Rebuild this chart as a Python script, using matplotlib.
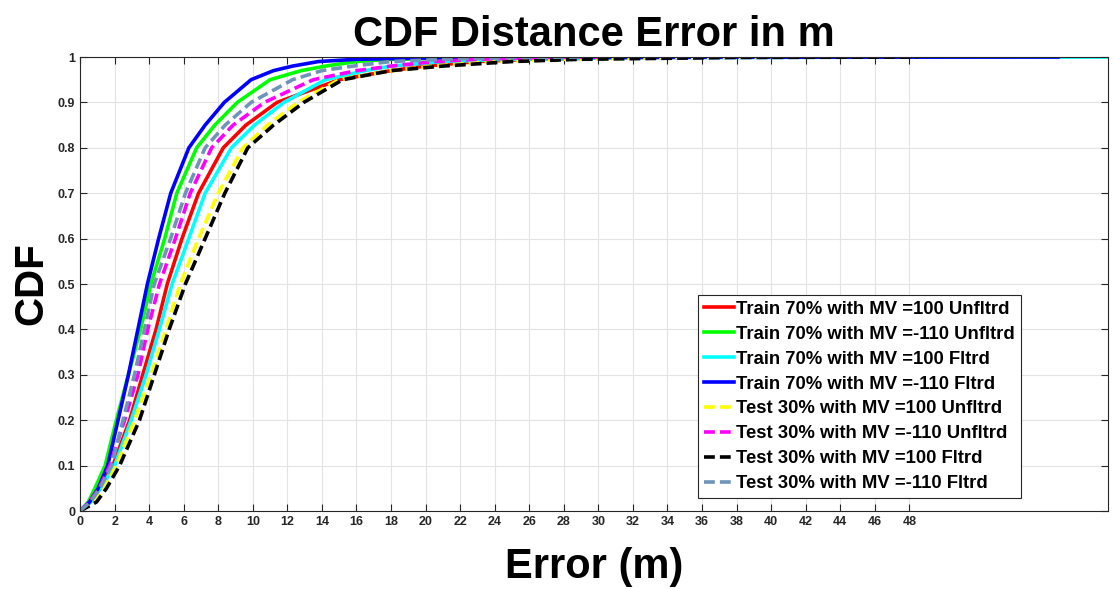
import numpy as np
import matplotlib
matplotlib.use("Agg")
import matplotlib.pyplot as plt

plt.rcParams['font.family'] = ['Liberation Sans', 'DejaVu Sans']

# CDF levels and the error (m) at which each curve reaches them
cdf_levels = [0, 0.02, 0.05, 0.1, 0.2, 0.3, 0.4, 0.5, 0.6, 0.7, 0.8, 0.85, 0.9,
              0.95, 0.97, 0.98, 0.99, 0.995, 0.999, 1.0]

train100_unf = [0, 0.6, 1.15, 1.9, 2.87, 3.63, 4.4, 5.05, 5.9, 6.86, 8.29, 9.6, 11.4,
                15.0, 18.0, 20, 23, 26, 32, 39]
train110_unf = [0, 0.48, 0.86, 1.45, 2.1, 2.8, 3.5, 4.1, 4.9, 5.6, 6.75, 7.8, 9.1,
                11.0, 12.8, 14.2, 16, 18, 24, 33]
train100_flt = [0, 0.62, 1.2, 2.0, 2.96, 3.82, 4.59, 5.33, 6.29, 7.24, 8.76, 10.1, 11.8,
                14.2, 16.5, 18, 21, 25, 33, 59.5]
train110_flt = [0, 0.55, 1.05, 1.6, 2.2, 2.8, 3.35, 3.9, 4.55, 5.25, 6.3, 7.24, 8.35,
                9.9, 11.2, 12.3, 13.8, 16, 22, 56.6]
test100_unf = [0, 0.85, 1.4, 2.1, 3.15, 4.11, 4.97, 5.8, 6.86, 8.0, 9.43, 10.86, 12.6,
               15, 18, 20.5, 24, 28, 34, 40]
test110_unf = [0, 0.55, 1.1, 1.72, 2.58, 3.35, 3.92, 4.6, 5.52, 6.38, 7.62, 8.86, 10.67,
               13.5, 16, 18, 20.5, 23, 27, 30]
test100_flt = [0, 0.96, 1.53, 2.29, 3.44, 4.3, 5.16, 6.1, 7.24, 8.38, 9.71, 11.2, 12.95,
               15.2, 18, 21, 25, 29, 38, 48.5]
test110_flt = [0, 0.6, 1.15, 1.82, 2.49, 3.15, 3.73, 4.3, 5.24, 6.1, 7.24, 8.4, 9.9,
               12.3, 14, 15.8, 18, 21, 25, 29]

labels = ['Train 70% with MV =100 Unfltrd', 'Train 70% with MV =-110 Unfltrd',
          'Train 70% with MV =100 Fltrd', 'Train 70% with MV =-110 Fltrd',
          'Test 30% with MV =100 Unfltrd', 'Test 30% with MV =-110 Unfltrd',
          'Test 30% with MV =100 Fltrd', 'Test 30% with MV =-110 Fltrd']
series = [train100_unf, train110_unf, train100_flt, train110_flt,
          test100_unf, test110_unf, test100_flt, test110_flt]
colors = ['#ff0000', '#00ff00', '#00ffff', '#0000ff',
          '#ffff00', '#ff00ff', '#000000', '#6f94b8']
styles = ['-', '-', '-', '-', '--', '--', '--', '--']

fig = plt.figure(figsize=(11.13, 5.89), dpi=100)
ax = fig.add_axes([0.0719, 0.1324, 0.9236, 0.7708])

for xs, lab, c, ls in zip(series, labels, colors, styles):
    ax.plot(xs, cdf_levels, color=c, linestyle=ls, linewidth=2.6, label=lab,
            dashes=(3.0, 1.4) if ls == '--' else (None, None))

ax.set_xlim(0, 59.5)
ax.set_ylim(0, 1)
ax.set_xticks(np.arange(0, 49, 2))
ax.set_yticks(np.arange(0, 1.01, 0.1))
ax.set_yticklabels(['0'] + ['%.1f' % v for v in np.arange(0.1, 0.95, 0.1)] + ['1'])
ax.grid(True, color='#e3e3e3', linewidth=0.8)
ax.tick_params(direction='in', top=True, right=True, length=5, width=0.8,
               labelsize=9, colors='#262626')
for lbl in ax.get_xticklabels() + ax.get_yticklabels():
    lbl.set_fontweight('bold')
for sp in ax.spines.values():
    sp.set_color('#262626')
    sp.set_linewidth(0.8)

ax.set_title('CDF Distance Error in m', fontsize=30, fontweight='bold', pad=8)
ax.set_xlabel('Error (m)', fontsize=30, fontweight='bold', labelpad=14)
ax.set_ylabel('CDF', fontsize=29, fontweight='bold', labelpad=5)

leg = ax.legend(loc='lower right', bbox_to_anchor=(0.915, 0.029),
                prop={'weight': 'bold', 'size': 13.3}, handlelength=1.6,
                handletextpad=0.15, labelspacing=0.43, borderpad=0.3,
                borderaxespad=0, fancybox=False, framealpha=1, edgecolor='#262626')
leg.get_frame().set_linewidth(0.8)

fig.savefig('out.png', dpi=100)
